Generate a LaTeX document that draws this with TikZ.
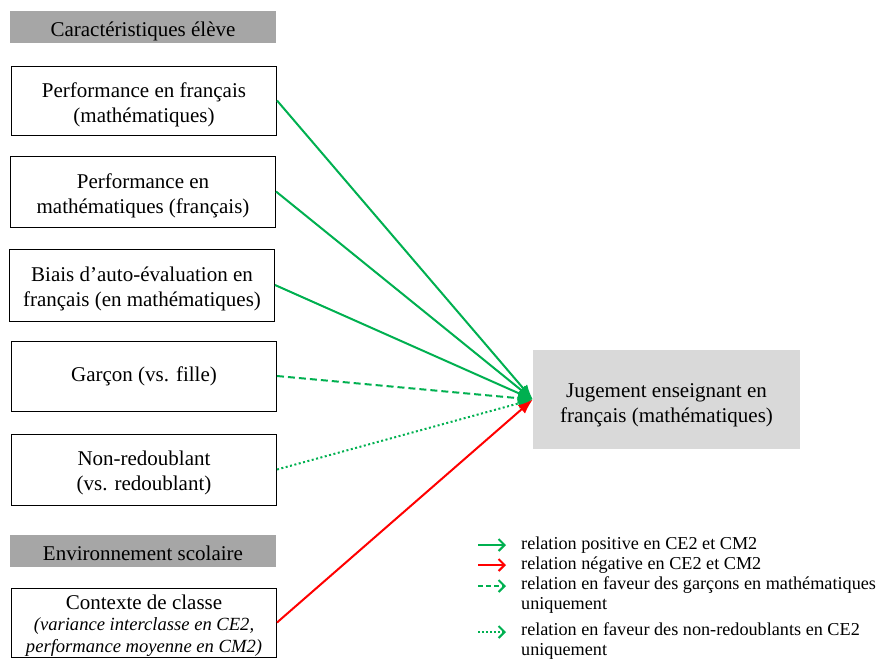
\documentclass[tikz,border=0pt]{standalone}
\usepackage{fontspec}
\setmainfont{Liberation Serif}
\usetikzlibrary{arrows.meta}
\definecolor{grn}{HTML}{00B050}
\definecolor{rd}{HTML}{FF0000}
\definecolor{hdr}{HTML}{A6A6A6}
\definecolor{tgt}{HTML}{D9D9D9}
\newcommand\mytopstrut[1]{\rule{0pt}{#1}}
\begin{document}
\begin{tikzpicture}[x=1pt,y=-1pt,
  box/.style={draw=black,line width=1pt,fill=white,minimum width=265pt,align=center,inner sep=0pt,font=\fontsize{21}{25}\selectfont},
  hdrbox/.style={fill=hdr,minimum width=266pt,minimum height=32pt,inner sep=0pt,text height=24pt,text depth=5pt,font=\fontsize{21}{25}\selectfont},
  tgtbox/.style={fill=tgt,minimum width=267pt,minimum height=99pt,align=center,inner sep=0pt,font=\fontsize{21}{25}\selectfont},
  link/.style={line width=2pt,-{Latex[length=15pt,width=11pt]}},
  legarrow/.style={line width=2pt,-{Straight Barb[length=6pt,width=12pt,line width=2pt]}},
  legtext/.style={anchor=west,inner sep=0pt,font=\fontsize{18.2}{20.5}\selectfont,align=left}
]
\useasboundingbox (0,0) rectangle (877,659);
\node[hdrbox] (h1) at (143,27) {Caractéristiques élève};
\node[box,minimum height=69pt] (b1) at (144,100.5) {\mytopstrut{23pt}Performance en français\\(mathématiques)};
\node[box,minimum height=71pt] (b2) at (143,191.5) {\mytopstrut{23pt}Performance en\\mathématiques (français)};
\node[box,minimum height=72pt] (b3) at (142,285) {\mytopstrut{22pt}Biais d’auto-évaluation en\\français (en mathématiques)};
\node[box,minimum height=70pt] (b4) at (144,376) {Garçon (vs. fille)};
\node[box,minimum height=71pt] (b5) at (144,469.5) {\mytopstrut{22pt}Non-redoublant\\(vs. redoublant)};
\node[hdrbox] (h2) at (143,550.5) {Environnement scolaire};
\node[box,minimum height=69pt] (b6) at (144,622.5) {\mytopstrut{21pt}Contexte de classe\\[-4pt]{\fontsize{18.6}{22}\selectfont\itshape (variance interclasse en CE2,}\\[-3pt]{\fontsize{18.6}{22}\selectfont\itshape performance moyenne en CM2)}};
\node[tgtbox] (t) at (666.5,399.5) {\mytopstrut{25pt}Jugement enseignant en\\français (mathématiques)};

\draw[link,grn] (b1.east) -- (t.west);
\draw[link,grn] (b2.east) -- (t.west);
\draw[link,grn] (b3.east) -- (t.west);
\draw[link,grn,dash pattern=on 7pt off 4pt] (b4.east) -- (t.west);
\draw[link,grn,dash pattern=on 2pt off 2.5pt] (b5.east) -- (t.west);
\draw[link,rd] (b6.east) -- (t.west);

\coordinate (la1) at (478,545); \coordinate (lb1) at (506,545);
\coordinate (la2) at (478,565); \coordinate (lb2) at (506,565);
\coordinate (la3) at (478,586); \coordinate (lb3) at (506,586);
\coordinate (la4) at (478,632); \coordinate (lb4) at (506,632);
\draw[legarrow,grn] (la1) -- (lb1);
\draw[legarrow,rd] (la2) -- (lb2);
\draw[legarrow,grn,dash pattern=on 5pt off 3pt] (la3) -- (lb3);
\draw[legarrow,grn,dash pattern=on 2pt off 2pt] (la4) -- (lb4);
\node[legtext] (l1) at (521,545) {relation positive en CE2 et CM2};
\node[legtext] (l2) at (521,565) {relation négative en CE2 et CM2};
\node[legtext,anchor=north west] (l3) at (521,576) {relation en faveur des garçons en mathématiques\\uniquement};
\node[legtext,anchor=north west] (l4) at (521,622) {relation en faveur des non-redoublants en CE2\\uniquement};
\end{tikzpicture}
\end{document}
